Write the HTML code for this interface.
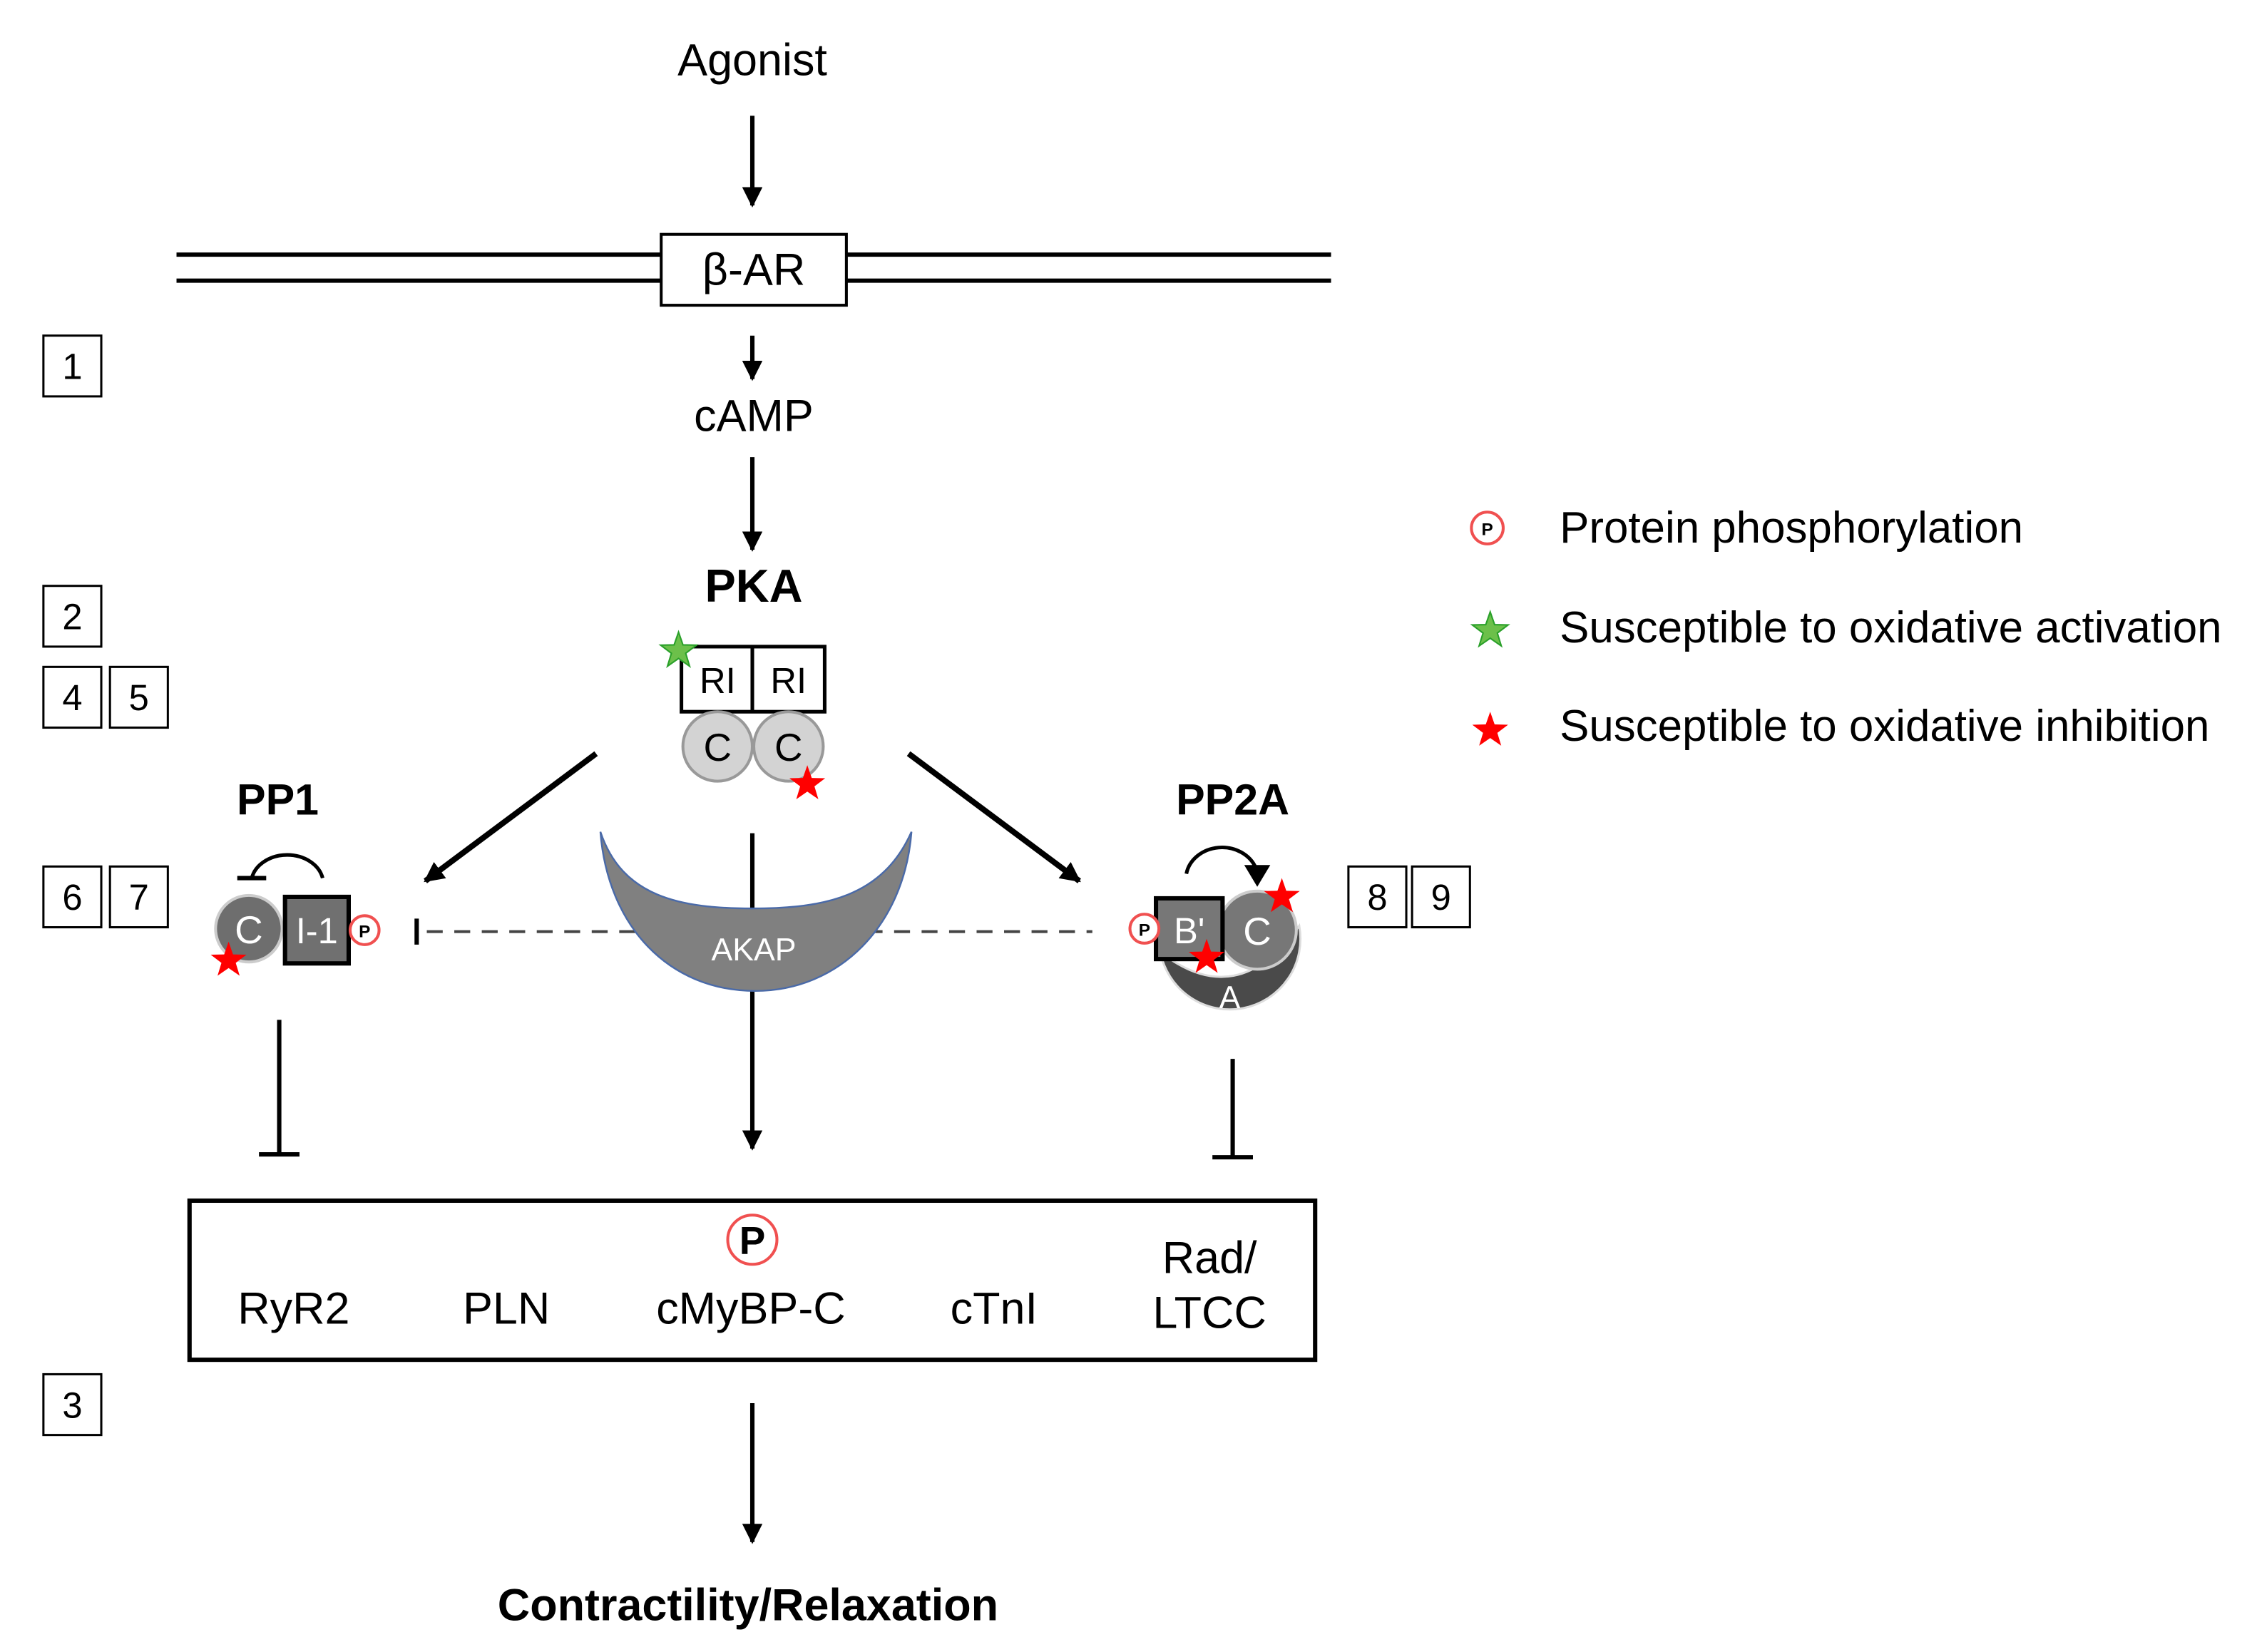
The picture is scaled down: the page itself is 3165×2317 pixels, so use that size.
<!DOCTYPE html>
<html><head><style>html,body{margin:0;padding:0;background:#fff}svg{display:block}text{font-family:"Liberation Sans",Arial,sans-serif}</style></head>
<body>
<svg width="3165" height="2317" viewBox="0 0 1560 1142" xmlns="http://www.w3.org/2000/svg">
<defs>
<marker id="ah2" viewBox="0 0 10 10" refX="9" refY="5" markerWidth="14" markerHeight="14" orient="auto" markerUnits="userSpaceOnUse"><path d="M0,0 L10,5 L0,10 Z" fill="#000"/></marker>
<polygon id="star" points="0,-1 0.235,-0.324 0.951,-0.309 0.380,0.124 0.588,0.809 0,0.4 -0.588,0.809 -0.380,0.124 -0.951,-0.309 -0.235,-0.324"/>
</defs>
<rect width="1560" height="1142" fill="#fff"/>
<g font-size="31" fill="#000" text-anchor="middle">
<text x="520" y="52">Agonist</text>
<line x1="520" y1="80" x2="520" y2="142" stroke="#000" stroke-width="3" marker-end="url(#ah2)"/>
<line x1="122" y1="176" x2="920" y2="176" stroke="#000" stroke-width="3"/>
<line x1="122" y1="194" x2="920" y2="194" stroke="#000" stroke-width="3"/>
<rect x="457" y="162" width="128" height="49" fill="#fff" stroke="#000" stroke-width="2"/>
<text x="521" y="197">β-AR</text>
<line x1="520" y1="232" x2="520" y2="262" stroke="#000" stroke-width="3" marker-end="url(#ah2)"/>
<text x="521" y="298">cAMP</text>
<line x1="520" y1="316" x2="520" y2="380" stroke="#000" stroke-width="3" marker-end="url(#ah2)"/>
<text x="521" y="416" font-weight="bold" font-size="32">PKA</text>
</g>
<g font-size="25" text-anchor="middle" fill="#000" stroke-width="1.5">
<rect x="30" y="232" width="40" height="42" fill="#fff" stroke="#000"/><text x="50" y="262">1</text>
<rect x="30" y="405" width="40" height="42" fill="#fff" stroke="#000"/><text x="50" y="435">2</text>
<rect x="30" y="461" width="40" height="42" fill="#fff" stroke="#000"/><text x="50" y="491">4</text>
<rect x="76" y="461" width="40" height="42" fill="#fff" stroke="#000"/><text x="96" y="491">5</text>
<rect x="30" y="599" width="40" height="42" fill="#fff" stroke="#000"/><text x="50" y="629">6</text>
<rect x="76" y="599" width="40" height="42" fill="#fff" stroke="#000"/><text x="96" y="629">7</text>
<rect x="932" y="599" width="40" height="42" fill="#fff" stroke="#000"/><text x="952" y="629">8</text>
<rect x="976" y="599" width="40" height="42" fill="#fff" stroke="#000"/><text x="996" y="629">9</text>
<rect x="30" y="950" width="40" height="42" fill="#fff" stroke="#000"/><text x="50" y="980">3</text>
</g>
<!-- PKA -->
<rect x="471" y="447" width="99" height="45" fill="#fff" stroke="#000" stroke-width="2.5"/>
<line x1="520" y1="447" x2="520" y2="492" stroke="#000" stroke-width="2.5"/>
<g font-size="25" text-anchor="middle"><text x="496" y="479">RI</text><text x="545" y="479">RI</text></g>
<circle cx="496" cy="516" r="24" fill="#d3d3d3" stroke="#999" stroke-width="2"/>
<circle cx="545" cy="516" r="24" fill="#d3d3d3" stroke="#999" stroke-width="2"/>
<g font-size="27" text-anchor="middle"><text x="496" y="526">C</text><text x="545" y="526">C</text></g>
<use href="#star" transform="translate(469,450) scale(13)" fill="#6cc04a" stroke="#2aa02a" stroke-width="0.08"/>
<use href="#star" transform="translate(558,542) scale(13)" fill="#f00"/>
<!-- diagonal arrows -->
<line x1="412" y1="521" x2="294" y2="609" stroke="#000" stroke-width="4" marker-end="url(#ah2)"/>
<line x1="628" y1="521" x2="746" y2="609" stroke="#000" stroke-width="4" marker-end="url(#ah2)"/>
<!-- dashed -->
<line x1="295" y1="644" x2="755" y2="644" stroke="#444" stroke-width="2" stroke-dasharray="11,8"/>
<line x1="288" y1="635" x2="288" y2="653" stroke="#000" stroke-width="3"/>
<!-- center line then AKAP on top -->
<line x1="520" y1="576" x2="520" y2="794" stroke="#000" stroke-width="3" marker-end="url(#ah2)"/>
<path d="M415,575 C430,620 470,628 520,628 C570,628 610,620 630,575 C625,640 580,685 522,685 C462,685 420,640 415,575 Z" fill="#808080" stroke="#4a6aa8" stroke-width="1.2"/>
<text x="521" y="664" font-size="22" fill="#fff" text-anchor="middle">AKAP</text>
<!-- PP1 -->
<text x="192" y="563" font-size="30" font-weight="bold" text-anchor="middle">PP1</text>
<path d="M223,607 A25,20 0 0 0 174,607" fill="none" stroke="#000" stroke-width="2.5"/>
<line x1="164" y1="607" x2="184" y2="607" stroke="#000" stroke-width="3"/>
<circle cx="172" cy="642" r="23" fill="#6e6e6e" stroke="#ccc" stroke-width="2"/>
<text x="172" y="652" font-size="27" fill="#fff" text-anchor="middle">C</text>
<rect x="197" y="620" width="44" height="46" fill="#707070" stroke="#000" stroke-width="3"/>
<text x="219" y="652" font-size="25" fill="#fff" text-anchor="middle">I-1</text>
<circle cx="252" cy="643" r="10" fill="#fff" stroke="#f05050" stroke-width="2"/>
<text x="252" y="648" font-size="12" font-weight="bold" text-anchor="middle">P</text>
<use href="#star" transform="translate(158,664) scale(13)" fill="#f00"/>
<line x1="193" y1="705" x2="193" y2="798" stroke="#000" stroke-width="3"/>
<line x1="179" y1="798" x2="207" y2="798" stroke="#000" stroke-width="3"/>
<!-- PP2A -->
<text x="852" y="563" font-size="30" font-weight="bold" text-anchor="middle">PP2A</text>
<path d="M820,604 A25,22 0 0 1 868,600" fill="none" stroke="#000" stroke-width="2.5"/>
<path d="M860,598 L878,598 L869,613 Z" fill="#000"/>
<path d="M802,658 A48,48 0 0 0 898,640 Q855,700 802,658 Z" fill="#4a4a4a" stroke="#ddd" stroke-width="1.5"/>
<circle cx="869" cy="643" r="27" fill="#777" stroke="#ccc" stroke-width="2"/>
<text x="869" y="653" font-size="27" fill="#fff" text-anchor="middle">C</text>
<rect x="799" y="621" width="46" height="42" fill="#777" stroke="#000" stroke-width="3"/>
<text x="822" y="652" font-size="25" fill="#fff" text-anchor="middle">B'</text>
<text x="850" y="697" font-size="22" fill="#fff" text-anchor="middle">A</text>
<circle cx="791" cy="642" r="10" fill="#fff" stroke="#f05050" stroke-width="2"/>
<text x="791" y="647" font-size="12" font-weight="bold" text-anchor="middle">P</text>
<use href="#star" transform="translate(886,620) scale(13)" fill="#f00"/>
<use href="#star" transform="translate(834,662) scale(13)" fill="#f00"/>
<line x1="852" y1="732" x2="852" y2="800" stroke="#000" stroke-width="3"/>
<line x1="838" y1="800" x2="866" y2="800" stroke="#000" stroke-width="3"/>
<!-- target box -->
<rect x="131" y="830" width="778" height="110" fill="#fff" stroke="#000" stroke-width="3"/>
<circle cx="520" cy="857" r="17" fill="#fff" stroke="#f05050" stroke-width="2"/>
<text x="520" y="867" font-size="27" font-weight="bold" text-anchor="middle">P</text>
<g font-size="31" text-anchor="middle">
<text x="203" y="915">RyR2</text>
<text x="350" y="915">PLN</text>
<text x="519" y="915">cMyBP-C</text>
<text x="687" y="915">cTnI</text>
<text x="836" y="880">Rad/</text>
<text x="836" y="918">LTCC</text>
</g>
<line x1="520" y1="970" x2="520" y2="1066" stroke="#000" stroke-width="3" marker-end="url(#ah2)"/>
<text x="517" y="1120" font-size="31" font-weight="bold" text-anchor="middle">Contractility/Relaxation</text>
<!-- legend -->
<circle cx="1028" cy="365" r="11" fill="#fff" stroke="#f05050" stroke-width="2"/>
<text x="1028" y="370" font-size="12" font-weight="bold" text-anchor="middle">P</text>
<use href="#star" transform="translate(1030,436) scale(13)" fill="#6cc04a" stroke="#2aa02a" stroke-width="0.08"/>
<use href="#star" transform="translate(1030,505) scale(13)" fill="#f00"/>
<g font-size="30.5">
<text x="1078" y="375">Protein phosphorylation</text>
<text x="1078" y="444">Susceptible to oxidative activation</text>
<text x="1078" y="512">Susceptible to oxidative inhibition</text>
</g>
</svg>
</body></html>
